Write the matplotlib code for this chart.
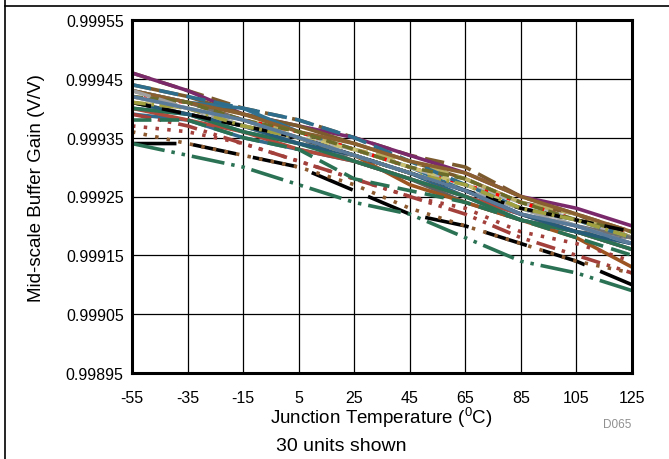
import matplotlib
matplotlib.use("Agg")
import matplotlib.pyplot as plt
from matplotlib.lines import Line2D

plt.rcParams["font.family"] = ["Liberation Sans", "DejaVu Sans"]
plt.rcParams["lines.scale_dashes"] = False

TEMPS = [-55, -35, -15, 5, 25, 45, 65, 85, 105, 125]
X_TICKS = [-55, -35, -15, 5, 25, 45, 65, 85, 105, 125]
Y_TICKS = [0.99895, 0.99905, 0.99915, 0.99925, 0.99935, 0.99945, 0.99955]
Y_TICK_LABELS = ["0.99895", "0.99905", "0.99915", "0.99925", "0.99935", "0.99945", "0.99955"]

# gain per unit at each temperature
u01 = [0.99946, 0.99943, 0.99940, 0.99938, 0.99935, 0.99932, 0.99930, 0.99925, 0.99922, 0.99919]
u02 = [0.99946, 0.99943, 0.99939, 0.99937, 0.99935, 0.99932, 0.99929, 0.99925, 0.99923, 0.99920]
u03 = [0.99944, 0.99942, 0.99939, 0.99937, 0.99934, 0.99931, 0.99928, 0.99924, 0.99922, 0.99918]
u04 = [0.99943, 0.99941, 0.99940, 0.99936, 0.99933, 0.99930, 0.99926, 0.99923, 0.99920, 0.99917]
u05 = [0.99943, 0.99941, 0.99938, 0.99935, 0.99933, 0.99930, 0.99927, 0.99924, 0.99921, 0.99918]
u06 = [0.99942, 0.99940, 0.99937, 0.99935, 0.99931, 0.99928, 0.99924, 0.99921, 0.99919, 0.99918]
u07 = [0.99941, 0.99940, 0.99938, 0.99936, 0.99933, 0.99931, 0.99928, 0.99924, 0.99922, 0.99918]
u08 = [0.99942, 0.99941, 0.99938, 0.99936, 0.99933, 0.99930, 0.99927, 0.99924, 0.99921, 0.99919]
u09 = [0.99941, 0.99939, 0.99937, 0.99934, 0.99932, 0.99927, 0.99924, 0.99921, 0.99918, 0.99913]
u10 = [0.99940, 0.99939, 0.99936, 0.99934, 0.99932, 0.99929, 0.99925, 0.99922, 0.99919, 0.99916]
u11 = [0.99939, 0.99938, 0.99935, 0.99933, 0.99931, 0.99928, 0.99925, 0.99921, 0.99919, 0.99917]
u12 = [0.99939, 0.99937, 0.99934, 0.99931, 0.99928, 0.99925, 0.99922, 0.99918, 0.99915, 0.99912]
u13 = [0.99938, 0.99938, 0.99935, 0.99933, 0.99928, 0.99926, 0.99924, 0.99921, 0.99918, 0.99915]
u14 = [0.99934, 0.99934, 0.99932, 0.99930, 0.99926, 0.99922, 0.99920, 0.99917, 0.99914, 0.99910]
u15 = [0.99934, 0.99932, 0.99930, 0.99927, 0.99924, 0.99922, 0.99918, 0.99914, 0.99912, 0.99909]
u16 = [0.99936, 0.99934, 0.99932, 0.99930, 0.99927, 0.99923, 0.99920, 0.99917, 0.99914, 0.99912]
u17 = [0.99937, 0.99936, 0.99934, 0.99931, 0.99928, 0.99925, 0.99923, 0.99919, 0.99917, 0.99914]
u18 = [0.99942, 0.99940, 0.99937, 0.99934, 0.99932, 0.99929, 0.99926, 0.99923, 0.99920, 0.99918]
u19 = [0.99943, 0.99941, 0.99938, 0.99935, 0.99932, 0.99929, 0.99926, 0.99922, 0.99920, 0.99918]
u20 = [0.99942, 0.99940, 0.99938, 0.99935, 0.99933, 0.99930, 0.99927, 0.99923, 0.99921, 0.99919]
u21 = [0.99944, 0.99942, 0.99940, 0.99938, 0.99935, 0.99931, 0.99927, 0.99923, 0.99921, 0.99918]
u22 = [0.99943, 0.99941, 0.99939, 0.99936, 0.99934, 0.99931, 0.99929, 0.99925, 0.99922, 0.99919]
u23 = [0.99942, 0.99941, 0.99938, 0.99936, 0.99933, 0.99930, 0.99928, 0.99924, 0.99921, 0.99919]
u24 = [0.99940, 0.99938, 0.99936, 0.99933, 0.99931, 0.99928, 0.99925, 0.99922, 0.99919, 0.99916]
u25 = [0.99940, 0.99939, 0.99936, 0.99934, 0.99931, 0.99928, 0.99925, 0.99921, 0.99919, 0.99916]
u26 = [0.99941, 0.99939, 0.99937, 0.99934, 0.99932, 0.99929, 0.99926, 0.99922, 0.99919, 0.99917]
u27 = [0.99943, 0.99940, 0.99937, 0.99935, 0.99932, 0.99929, 0.99926, 0.99923, 0.99920, 0.99917]
u28 = [0.99941, 0.99939, 0.99937, 0.99935, 0.99932, 0.99929, 0.99926, 0.99923, 0.99921, 0.99919]
u29 = [0.99941, 0.99940, 0.99937, 0.99935, 0.99932, 0.99929, 0.99927, 0.99923, 0.99921, 0.99918]
u30 = [0.99942, 0.99940, 0.99938, 0.99935, 0.99932, 0.99929, 0.99926, 0.99922, 0.99920, 0.99917]

units = [u01, u02, u03, u04, u05, u06, u07, u08, u09, u10, u11, u12, u13, u14, u15,
         u16, u17, u18, u19, u20, u21, u22, u23, u24, u25, u26, u27, u28, u29, u30]

# (colour, dash pattern in points or None for solid) — same order as units
SOLID = None
LONG = (14, 6)
DOT = (2.5, 6)
DDOT_G = (24, 5, 2.5, 5, 2.5, 5)
DDOT_M = (14, 5, 2.5, 5, 2.5, 5)
styles = [
    ("#7b5b2e", LONG), ("#7a2a6a", SOLID), ("#7b5b2e", SOLID), ("#31708f", SOLID),
    ("#b0b0b0", SOLID), ("#606060", SOLID), ("#b8ad62", LONG), ("#ff0000", DOT),
    ("#9c5520", SOLID), ("#2a6585", SOLID), ("#336b8c", SOLID), ("#a3403b", DDOT_M),
    ("#2b7255", LONG), ("#000000", (32, 12)), ("#2b7255", DDOT_G), ("#8c5a2e", DOT),
    ("#a3403b", DOT), ("#c0c0c0", SOLID), ("#707070", SOLID), ("#c8c070", (6, 4)),
    ("#2f6d8c", LONG), ("#8a6030", SOLID), ("#6b6b2a", (8, 4)), ("#b04a3a", SOLID),
    ("#2b7255", SOLID), ("#275c78", SOLID), ("#a0a0a0", LONG), ("#000000", (14, 8)),
    ("#a0a040", (10, 4, 2, 4)), ("#5a7a9a", SOLID),
]

fig = plt.figure(figsize=(6.69, 4.60), dpi=100)
ax = fig.add_axes([132 / 669, 1 - 374 / 460, 500 / 669, 353 / 460])

# draw the bundle first, the low outliers last so they sit on top
order = list(range(30))
for i in [13, 14, 11, 15, 16, 12]:
    order.remove(i)
    order.append(i)
for i in order:
    col, dash = styles[i]
    line, = ax.plot(TEMPS, units[i], color=col, lw=2.6, solid_capstyle="butt")
    if dash is not None:
        line.set_dashes(dash)
        line.set_dash_capstyle("butt")

ax.set_xlim(-55, 125)
ax.set_ylim(0.99895, 0.99955)
ax.set_xticks(X_TICKS)
ax.set_xticklabels([str(t) for t in X_TICKS])
ax.set_yticks(Y_TICKS)
ax.set_yticklabels(Y_TICK_LABELS)
ax.tick_params(axis="both", length=0, labelsize=11.5)
ax.tick_params(axis="x", pad=12)
ax.tick_params(axis="y", pad=6)
ax.grid(True, color="black", lw=0.9)
ax.set_axisbelow(True)
for sp in ax.spines.values():
    sp.set_linewidth(2.2)

fig.text(381 / 669, 1 - 418 / 460, r"Junction Temperature ($\mathregular{^0}$C)",
         ha="center", va="center", fontsize=13.5)
fig.text(37 / 669, 1 - 188 / 460, "Mid-scale Buffer Gain (V/V)", rotation=90,
         ha="center", va="center", fontsize=13.5)
fig.text(341 / 669, 1 - 447 / 460, "30 units shown", ha="center", va="center", fontsize=14)
fig.text(617 / 669, 1 - 425 / 460, "D065", ha="center", va="center", fontsize=8.5,
         color="#909090")

# frame lines of the surrounding table
fig.add_artist(Line2D([5 / 669, 1], [1 - 7 / 460, 1 - 7 / 460], color="black", lw=1.2))
fig.add_artist(Line2D([5 / 669, 5 / 669], [0, 1], color="black", lw=1.2))

fig.savefig("out.png", dpi=100)
